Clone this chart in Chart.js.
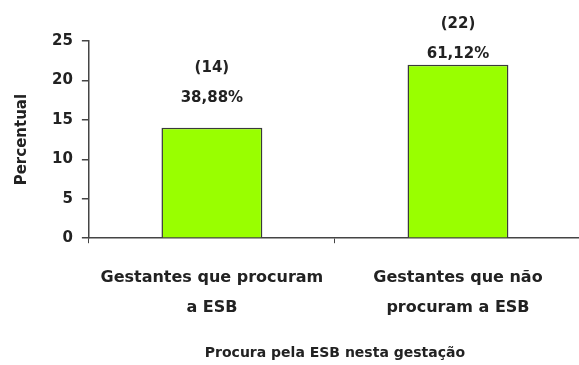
<!DOCTYPE html>
<html>
<head>
<meta charset="utf-8">
<script src="https://cdn.jsdelivr.net/npm/chart.js@4.4.0/dist/chart.umd.min.js"></script>
<style>
  body { margin: 0; background: #fff; }
  #wrap { width: 579px; height: 365px; overflow: hidden; }
  #box { width: 581px; height: 365px; position: relative; }
</style>
</head>
<body>
<div id="wrap"><div id="box"><canvas id="procura_esb"></canvas></div></div>
<script>
// Procura pela ESB nesta gestação
const categorias = [['Gestantes que procuram', 'a ESB'], ['Gestantes que não', 'procuram a ESB']];
const gestantes = [14, 22];
const percentuais = ['38,88%', '61,12%'];
const yTicks = [0, 5, 10, 15, 20, 25];

const fonte = 'DejaVu Sans';
const corTexto = '#222';

// escreve "(n)" e o percentual acima de cada barra
const rotulosBarras = {
  id: 'rotulosBarras',
  afterDatasetsDraw(chart) {
    const ctx = chart.ctx;
    const meta = chart.getDatasetMeta(0);
    const gap = [30, 11];
    ctx.save();
    ctx.fillStyle = corTexto;
    ctx.font = 'bold 15px "' + fonte + '"';
    ctx.textAlign = 'center';
    ctx.textBaseline = 'middle';
    meta.data.forEach(function (bar, i) {
      const y = bar.y - gap[i];
      ctx.fillText(percentuais[i], bar.x, y);
      ctx.fillText('(' + gestantes[i] + ')', bar.x, y - 30);
    });
    ctx.restore();
  }
};

const ctx = document.getElementById('procura_esb').getContext('2d');
const myChart = new Chart(ctx, {
  type: 'bar',
  data: {
    labels: categorias,
    datasets: [{
      data: gestantes,
      backgroundColor: '#99ff00',
      borderColor: '#3a3a3a',
      borderWidth: 1.5,
      categoryPercentage: 1,
      barPercentage: 0.41
    }]
  },
  options: {
    responsive: true,
    maintainAspectRatio: false,
    animation: false,
    layout: { padding: { top: 41, right: 0, left: 13, bottom: 3 } },
    plugins: {
      legend: { display: false },
      tooltip: { enabled: false }
    },
    scales: {
      x: {
        offset: true,
        grid: { offset: true, drawOnChartArea: false, tickLength: 5, color: '#444', lineWidth: 1 },
        border: { color: '#444', width: 1.5 },
        ticks: {
          color: corTexto,
          padding: 20,
          maxRotation: 0,
          font: { family: fonte, weight: 'bold', size: 16, lineHeight: 1.875 }
        },
        title: {
          display: true,
          text: 'Procura pela ESB nesta gestação',
          color: corTexto,
          font: { family: fonte, weight: 'bold', size: 14 },
          padding: { top: 2, bottom: 0 }
        }
      },
      y: {
        min: 0,
        max: 25,
        afterBuildTicks: function (axis) {
          axis.ticks = yTicks.map(function (v) { return { value: v }; });
        },
        grid: { drawOnChartArea: false, tickLength: 7, color: '#444', lineWidth: 1.5 },
        border: { color: '#444', width: 1.5 },
        ticks: {
          color: corTexto,
          padding: 9,
          font: { family: fonte, weight: 'bold', size: 15 }
        },
        title: {
          display: true,
          text: 'Percentual',
          color: corTexto,
          font: { family: fonte, weight: 'bold', size: 15 },
          padding: { top: 0, bottom: 12 }
        }
      }
    }
  },
  plugins: [rotulosBarras]
});
</script>
</body>
</html>
